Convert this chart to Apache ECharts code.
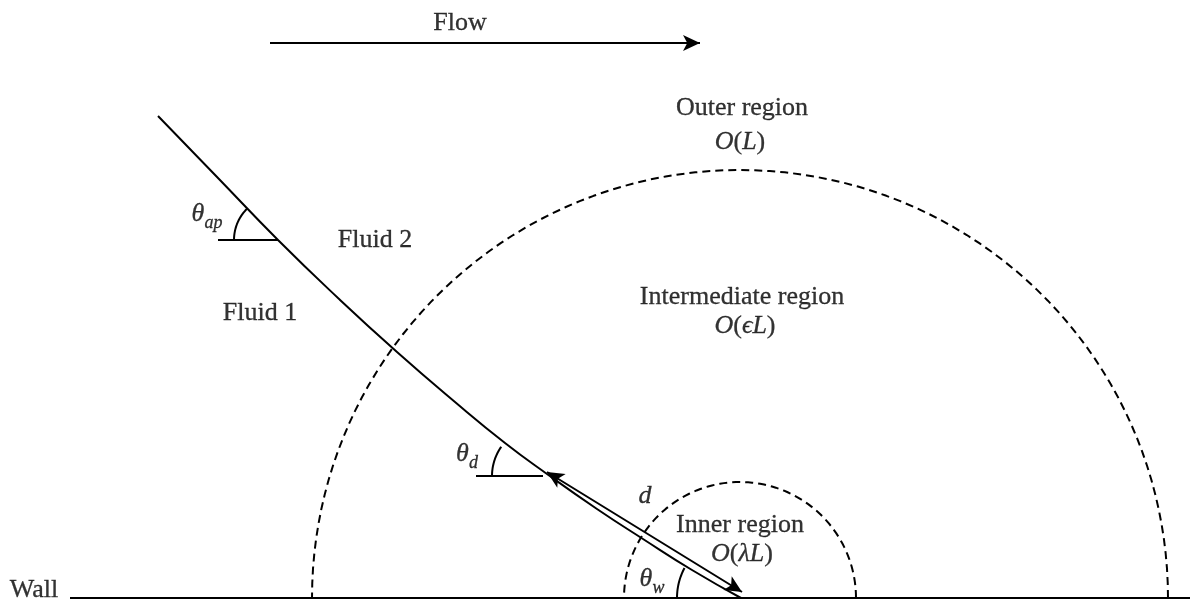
<!DOCTYPE html>
<html>
<head>
<meta charset="utf-8">
<script src="https://cdn.jsdelivr.net/npm/echarts@6/dist/echarts.min.js"></script>
<style>
  html, body { margin: 0; padding: 0; background: #fff; }
  #chart { width: 1190px; height: 604px; }
</style>
</head>
<body>
<div id="chart"></div>
<script>
// diagram space: x to the right, y downwards (same units as the picture)
var wallY = 598;
var wallX = [70, 1190];
var flowArrow = [[270, 43], [700, 43]];
var dArrow = [[547, 472], [742, 592]];

// fluid-fluid interface
var interfacePts = [
  [158, 116], [218, 178], [278, 240], [338, 298], [397, 352],
  [455, 402], [505, 443], [547, 474], [597, 509], [643, 539],
  [692, 570], [741, 598]
];

// region boundaries: [centre x, radius]
var outerRegion = [740, 428];
var innerRegion = [740, 116];

// angle marks: [corner x, corner y, horizontal leg start x, arc radius, arc end angle deg]
var angleMarks = [
  [278, 240, 218, 44, 135],
  [543, 476, 476, 51, 145],
  [741, 598, null, 64, 152]
];

// labels: [x, y, text]
var labels = [
  [460, 23, 'Flow'],
  [742, 108, 'Outer region'],
  [740, 142, '{it|O}({it|L})'],
  [742, 297, 'Intermediate region'],
  [745, 326, '{it|O}({it|ϵL})'],
  [375, 240, 'Fluid 2'],
  [260, 313, 'Fluid 1'],
  [207, 214, '{it|θ}{sub|ap}'],
  [467, 454, '{it|θ}{sub|d}'],
  [645, 496, '{it|d}'],
  [740, 525, 'Inner region'],
  [742, 554, '{it|O}({it|λL})'],
  [652, 579, '{it|θ}{sub|w}'],
  [34, 590, 'Wall']
];

var FONT = "'Liberation Serif', 'DejaVu Serif', serif";

function arcPoints(cx, cy, r, a0, a1) {
  var pts = [];
  var n = 90;
  for (var i = 0; i <= n; i++) {
    var a = (a0 + (a1 - a0) * i / n) * Math.PI / 180;
    pts.push([cx + r * Math.cos(a), cy - r * Math.sin(a)]);
  }
  return pts;
}

var series = [];
var solid = { color: '#000', width: 2 };

// wall
series.push({
  type: 'line', data: [[wallX[0], wallY], [wallX[1], wallY]],
  showSymbol: false, lineStyle: solid, silent: true
});
// interface
series.push({
  type: 'line', data: interfacePts, smooth: 0.5,
  showSymbol: false, lineStyle: { color: '#000', width: 2 }, silent: true
});
// dashed regions
[outerRegion, innerRegion].forEach(function (c) {
  series.push({
    type: 'line', data: arcPoints(c[0], wallY, c[1], 0, 180),
    showSymbol: false, silent: true,
    lineStyle: { color: '#000', width: 2, type: [8, 5] }
  });
});
// angle marks
angleMarks.forEach(function (m) {
  if (m[2] !== null) {
    series.push({
      type: 'line', data: [[m[2], m[1]], [m[0], m[1]]],
      showSymbol: false, lineStyle: solid, silent: true
    });
  }
  series.push({
    type: 'line', data: arcPoints(m[0], m[1], m[3], 180, m[4]),
    showSymbol: false, lineStyle: solid, silent: true
  });
});
// arrows
series.push({
  type: 'line', data: [], silent: true,
  markLine: {
    silent: true, animation: false,
    label: { show: false },
    lineStyle: { color: '#000', width: 2, type: 'solid' },
    symbolSize: [12, 17],
    data: [
      [{ coord: flowArrow[0], symbol: 'none' }, { coord: flowArrow[1], symbol: 'arrow' }],
      [{ coord: dArrow[0], symbol: 'arrow' }, { coord: dArrow[1], symbol: 'arrow' }]
    ]
  }
});
// text
var txt = { color: '#000', fontFamily: FONT, textBorderColor: '#000', textBorderWidth: 0.3 };
series.push({
  type: 'scatter', symbolSize: 0, silent: true,
  data: labels.map(function (l) { return { value: [l[0], l[1]], name: l[2] }; }),
  label: Object.assign({
    show: true, position: 'inside', fontSize: 26,
    formatter: function (p) { return p.name; },
    rich: {
      it: Object.assign({ fontStyle: 'italic', fontSize: 26, lineHeight: 36 }, txt),
      sub: Object.assign({ fontStyle: 'italic', fontSize: 18, lineHeight: 36, verticalAlign: 'bottom' }, txt)
    }
  }, txt)
});

var chart = echarts.init(document.getElementById('chart'));
chart.setOption({
  animation: false,
  backgroundColor: '#fff',
  grid: { left: 0, right: 0, top: 0, bottom: 0 },
  xAxis: { type: 'value', min: 0, max: 1190, show: false },
  yAxis: { type: 'value', min: 0, max: 604, inverse: true, show: false },
  series: series
});
</script>
</body>
</html>
